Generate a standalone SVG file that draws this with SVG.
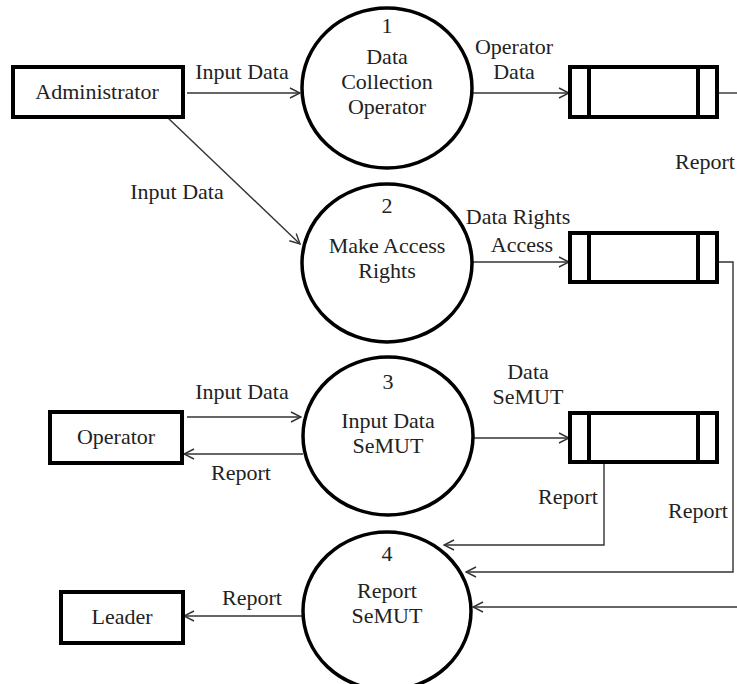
<svg xmlns="http://www.w3.org/2000/svg" width="737" height="684" viewBox="0 0 737 684">
<style>
text{font-family:"Liberation Serif","Times New Roman",serif;font-size:22px;fill:#222;text-anchor:middle}
.ent{fill:#fff;stroke:#000;stroke-width:4}
.proc{fill:#fff;stroke:#000;stroke-width:3.5}
.store{fill:#fff;stroke:#000;stroke-width:4}
.c{fill:none;stroke:#333;stroke-width:1.4}
.a{fill:none;stroke:#333;stroke-width:1.4;marker-end:url(#arr)}
</style>
<defs>
<marker id="arr" viewBox="0 0 12 12" refX="11" refY="6" markerWidth="12" markerHeight="12" markerUnits="userSpaceOnUse" orient="auto">
<path d="M1,1 L11,6 L1,11" fill="none" stroke="#333" stroke-width="1.4"/>
</marker>
</defs>
<rect width="737" height="684" fill="#fff"/>
<g id="connectors">
<line class="a" x1="187" y1="93" x2="300" y2="93"/>
<line class="a" x1="168" y1="118" x2="300" y2="244"/>
<line class="a" x1="472" y1="93" x2="569" y2="93"/>
<line class="c" x1="717" y1="93" x2="737" y2="93"/>
<line class="a" x1="472" y1="262" x2="569" y2="262"/>
<line class="a" x1="187" y1="417" x2="301" y2="417"/>
<line class="a" x1="303" y1="454" x2="184" y2="454"/>
<line class="a" x1="473" y1="438" x2="569" y2="438"/>
<polyline class="a" points="604,463 604,545 444,545"/>
<polyline class="a" points="717,262 733,262 733,572 466,572"/>
<line class="a" x1="737" y1="607" x2="473" y2="607"/>
<line class="a" x1="303" y1="616" x2="184" y2="616"/>
<text x="242" y="79">Input Data</text>
<text x="177" y="199">Input Data</text>
<text x="514" y="54">Operator</text>
<text x="514" y="79">Data</text>
<text x="705" y="169">Report</text>
<text x="518" y="224">Data Rights</text>
<text x="522" y="252">Access</text>
<text x="528" y="379">Data</text>
<text x="528" y="404">SeMUT</text>
<text x="242" y="399">Input Data</text>
<text x="241" y="480">Report</text>
<text x="568" y="504">Report</text>
<text x="698" y="518">Report</text>
<text x="252" y="605">Report</text>
</g>
<g id="administrator">
<rect class="ent" x="13" y="67" width="170" height="50"/>
<text x="97" y="99">Administrator</text>
</g>
<g id="operator">
<rect class="ent" x="50" y="412" width="132" height="51"/>
<text x="116" y="444">Operator</text>
</g>
<g id="leader">
<rect class="ent" x="61" y="592" width="122" height="51"/>
<text x="122" y="624">Leader</text>
</g>
<g id="p1">
<ellipse class="proc" cx="387" cy="88" rx="85" ry="80"/>
<text x="387" y="33">1</text>
<text x="387" y="64">Data</text>
<text x="387" y="89">Collection</text>
<text x="387" y="114">Operator</text>
</g>
<g id="p2">
<ellipse class="proc" cx="387" cy="263" rx="85" ry="79"/>
<text x="387" y="213">2</text>
<text x="387" y="253">Make Access</text>
<text x="387" y="278">Rights</text>
</g>
<g id="p3">
<ellipse class="proc" cx="388" cy="436" rx="85" ry="79"/>
<text x="388" y="389">3</text>
<text x="388" y="428">Input Data</text>
<text x="388" y="453">SeMUT</text>
</g>
<g id="p4">
<ellipse class="proc" cx="387" cy="611" rx="84" ry="79"/>
<text x="387" y="561">4</text>
<text x="387" y="598">Report</text>
<text x="387" y="623">SeMUT</text>
</g>
<g id="store1">
<rect class="store" x="570" y="67" width="147" height="50"/>
<line class="store" x1="589" y1="67" x2="589" y2="117"/>
<line class="store" x1="698" y1="67" x2="698" y2="117"/>
</g>
<g id="store2">
<rect class="store" x="570" y="233" width="147" height="49"/>
<line class="store" x1="589" y1="233" x2="589" y2="282"/>
<line class="store" x1="698" y1="233" x2="698" y2="282"/>
</g>
<g id="store3">
<rect class="store" x="570" y="413" width="147" height="49"/>
<line class="store" x1="589" y1="413" x2="589" y2="462"/>
<line class="store" x1="698" y1="413" x2="698" y2="462"/>
</g>
</svg>
